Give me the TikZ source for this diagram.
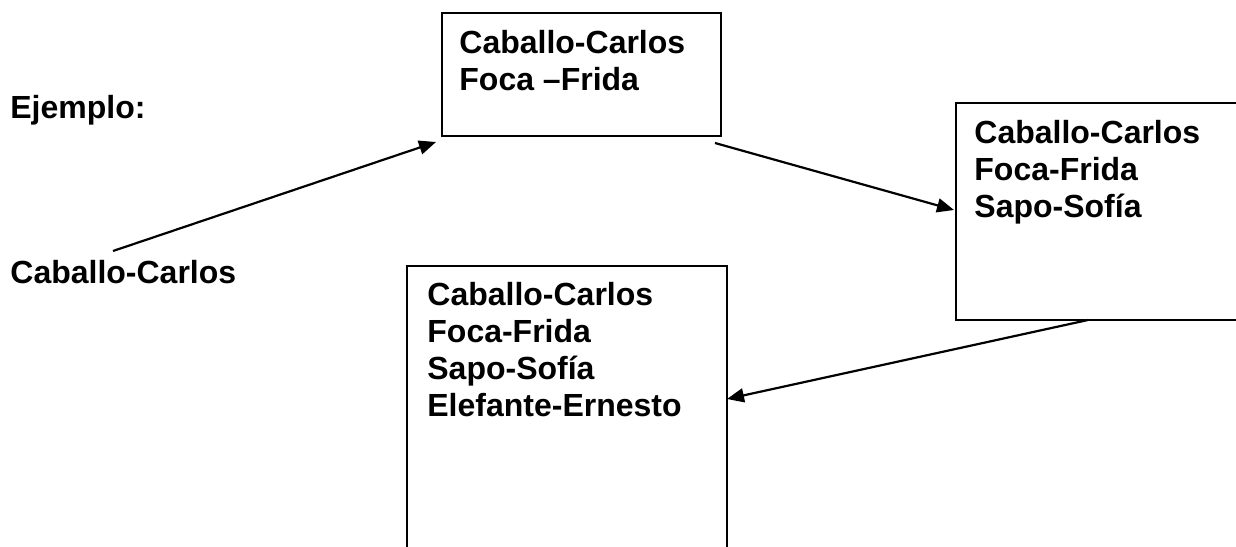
\documentclass[tikz,border=0pt]{standalone}
\usepackage{fontspec}
\setmainfont{Liberation Sans}
\usetikzlibrary{arrows.meta}
\begin{document}
\begin{tikzpicture}[x=0.5pt,y=-0.5pt,
  boxshape/.style={draw,line width=1pt,inner sep=0pt,anchor=north west},
  txt/.style={anchor=base west,inner sep=0pt,align=left,font=\fontsize{16}{18.6}\selectfont\bfseries},
  conn/.style={line width=1.1pt,-{Triangle[length=8.5pt,width=7pt]}}]
\useasboundingbox (0,0) rectangle (1236,546);
% boxes
\node[boxshape,minimum width=279*0.5pt,minimum height=123*0.5pt] (b1) at (441,12) {};
\node[boxshape,minimum width=300*0.5pt,minimum height=217*0.5pt] (b2) at (955,102) {};
\node[boxshape,minimum width=320*0.5pt,minimum height=320*0.5pt] (b3) at (406,265) {};
% texts (anchor = baseline of the last line)
\node[txt] (t1) at (459,90.2) {Caballo-Carlos\\Foca –Frida};
\node[txt] (t2) at (974,217.4) {Caballo-Carlos\\Foca-Frida\\Sapo-Sofía};
\node[txt] (t3) at (427,416.6) {Caballo-Carlos\\Foca-Frida\\Sapo-Sofía\\Elefante-Ernesto};
\node[txt] (ej) at (10,118) {Ejemplo:};
\node[txt] (cc) at (10,283) {Caballo-Carlos};
% connector end points
\coordinate (a1s) at (113,251);
\coordinate (a1e) at (436,142);
\coordinate (a2s) at (715,143);
\coordinate (a2e) at (954,210);
\coordinate (a3s) at (1088,320);
\coordinate (a3e) at (727,399);
\draw[conn] (a1s) -- (a1e);
\draw[conn] (a2s) -- (a2e);
\draw[conn] (a3s) -- (a3e);
\end{tikzpicture}
\end{document}
